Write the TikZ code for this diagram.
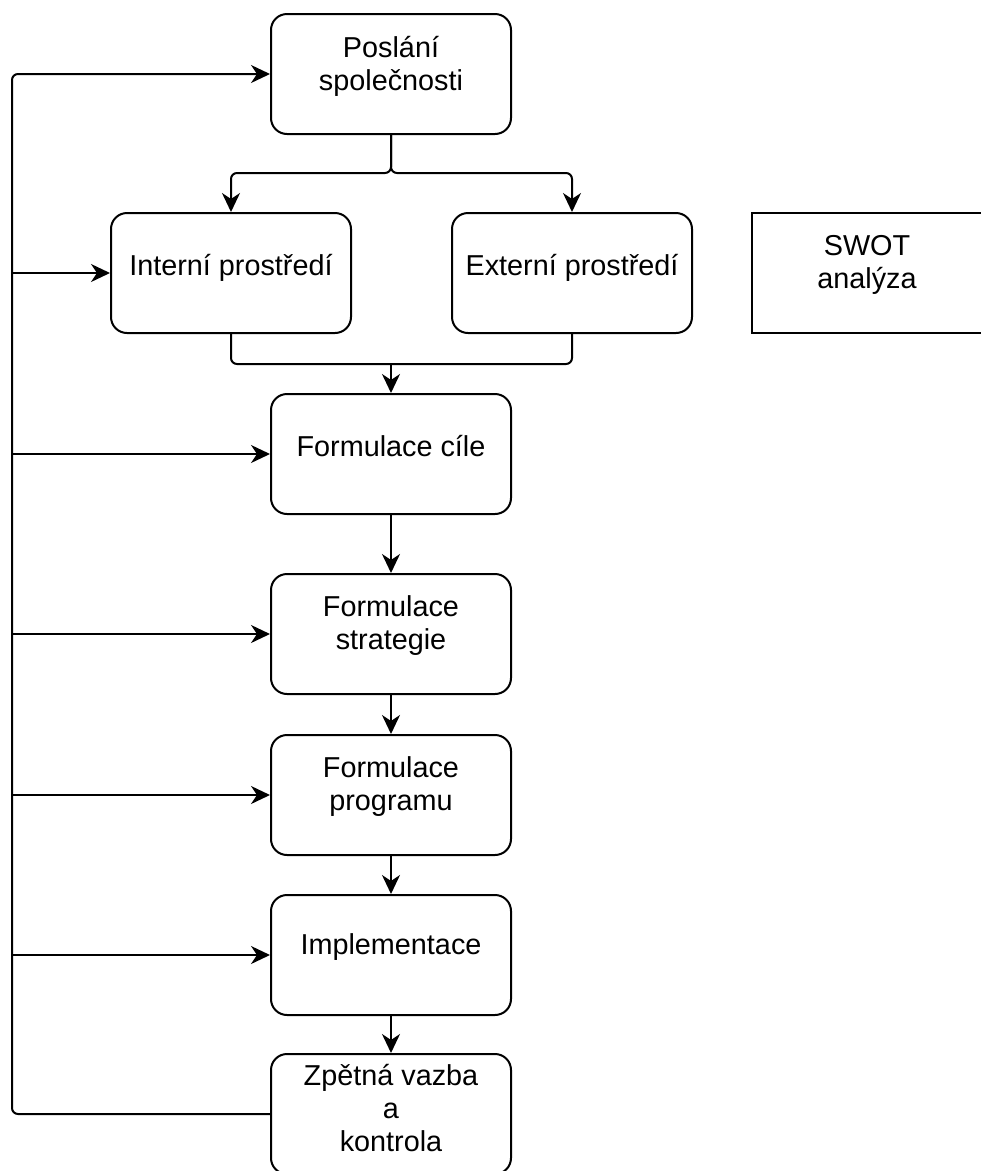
\documentclass[tikz,border=0pt]{standalone}
\usepackage{fontspec}
\setmainfont{Liberation Sans}
\usetikzlibrary{arrows.meta}
\begin{document}
\begin{tikzpicture}[x=1pt,y=-1pt,
  box/.style={draw, line width=2pt, rounded corners=16pt, minimum width=240pt, minimum height=120pt, inner sep=0pt},
  sqbox/.style={draw, line width=2pt, minimum width=230pt, minimum height=120pt, inner sep=0pt},
  txt/.style={align=center, font=\fontsize{28.8}{33}\selectfont, inner sep=0pt, yshift=8pt},
  conn/.style={line width=2pt, rounded corners=6pt},
  arr/.style={conn, -{Stealth[length=19pt, width=18pt, inset=6pt]}}]
\useasboundingbox (0,0) rectangle (981,1171);
\clip (0,0) rectangle (981,1171);
% boxes
\node[box] (pos) at (391,74) {};
\node[txt] (tpos) at (pos.center) {Poslání\\společnosti};
\node[box] (int) at (231,273) {};
\node[txt, yshift=-3pt] (tint) at (int.center) {Interní prostředí};
\node[box] (ext) at (572,273) {};
\node[txt, yshift=-3pt] (text) at (ext.center) {Externí prostředí};
\node[sqbox] (swot) at (867,273) {};
\node[txt] (tswot) at (swot.center) {SWOT\\analýza};
\node[box] (cile) at (391,454) {};
\node[txt] (tcile) at (cile.center) {Formulace cíle};
\node[box] (strat) at (391,634) {};
\node[txt] (tstrat) at (strat.center) {Formulace\\strategie};
\node[box] (prog) at (391,795) {};
\node[txt] (tprog) at (prog.center) {Formulace\\programu};
\node[box] (impl) at (391,955) {};
\node[txt] (timpl) at (impl.center) {Implementace};
\node[box] (zpet) at (391,1114) {};
\node[txt, yshift=-2pt] (tzpet) at (zpet.center) {Zpětná vazba\\a\\kontrola};
% junctions
\coordinate (j1) at (391,173);
\coordinate (j2) at (391,364);
% trunk points
\coordinate (tt) at (12,74);
\coordinate (tb) at (12,1114);
\coordinate (t1) at (12,273);
\coordinate (t2) at (12,454);
\coordinate (t3) at (12,634);
\coordinate (t4) at (12,795);
\coordinate (t5) at (12,955);
% connectors
\draw[arr] (pos.south) -- (j1) -| (int.north);
\draw[arr] (pos.south) -- (j1) -| (ext.north);
\draw[conn] (int.south) |- (j2);
\draw[conn] (ext.south) |- (j2);
\draw[arr] (j2) -- (cile.north);
\draw[arr] (cile.south) -- (strat.north);
\draw[arr] (strat.south) -- (prog.north);
\draw[arr] (prog.south) -- (impl.north);
\draw[arr] (impl.south) -- (zpet.north);
\draw[arr] (zpet.west) -- (tb) -- (tt) -- (pos.west);
\draw[arr] (t1) -- (int.west);
\draw[arr] (t2) -- (cile.west);
\draw[arr] (t3) -- (strat.west);
\draw[arr] (t4) -- (prog.west);
\draw[arr] (t5) -- (impl.west);
\end{tikzpicture}
\end{document}
